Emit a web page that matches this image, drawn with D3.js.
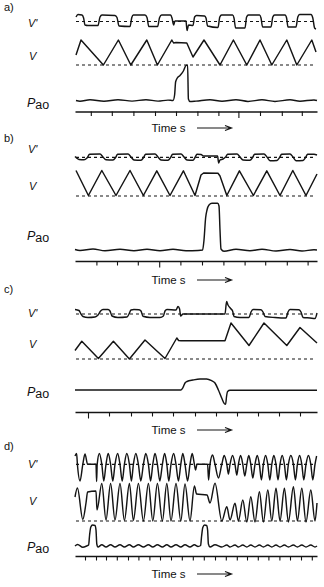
<!DOCTYPE html>
<html>
<head>
<meta charset="utf-8">
<script src="https://cdn.jsdelivr.net/npm/d3@7"></script>
<style>
  html, body { margin: 0; padding: 0; background: #fff; }
  text { font-family: "Liberation Sans", Arial, sans-serif; fill: #111; }
</style>
</head>
<body>
<div id="chart"></div>
<script>
// trace data: [time s, value]  (V' flow, V volume, Pao pressure; arbitrary units)
const aFlow = [[0.05,0.45],[0.15,0.7],[0.35,0.65],[0.43,0.35],[0.5,-0.35],[0.65,-0.4],[1.15,-0.4],[1.25,0.45],[1.35,0.65],[2.0,0.6],[2.1,0.4],[2.2,-0.45],[2.75,-0.5],[2.84,0.4],[2.92,0.65],[3.5,0.65],[3.6,0.4],[3.69,-0.5],[4.13,-0.5],[4.23,0.4],[4.33,0.65],[4.78,0.65],[4.85,0.35],[4.93,-0.35],[5.0,0.05],[5.55,0.05],[5.6,-0.9],[5.68,-0.35],[5.9,-0.4],[5.98,0.45],[6.08,0.6],[6.48,0.55],[6.55,0.35],[6.63,-0.45],[7.15,-0.6],[7.24,0.45],[7.33,0.65],[7.88,0.65],[7.95,0.35],[8.03,-0.65],[8.5,-0.65],[8.58,0.45],[8.67,0.65],[9.23,0.65],[9.3,0.35],[9.38,-0.55],[9.8,-0.55],[9.89,0.45],[9.98,0.65],[10.5,0.65],[10.58,0.35],[10.65,-0.55],[11.05,-0.55],[11.14,0.45],[11.23,0.7],[11.8,0.7],[11.89,0.35],[11.98,-0.65],[12.05,-0.75]];
const aVolume = [[0.05,1.0],[0.3,2.5],[1.42,0],[2.17,2.5],[2.79,0],[3.59,2.5],[4.12,0],[4.84,2.5],[4.93,2.2],[5.05,2.25],[5.59,2.2],[5.9,0.8],[6.45,2.5],[7.25,0],[7.92,2.5],[8.59,0],[9.25,2.5],[9.84,0],[10.59,2.5],[11.09,0],[11.84,2.5],[12.05,1.3]];
const aPressure = [[0.05,0],[0.25,-0.07],[0.75,0.08],[1.45,-0.07],[2.15,0.08],[2.85,-0.06],[3.55,0.08],[4.15,-0.06],[4.65,0.04],[4.9,0],[4.98,0.55],[5.03,1.85],[5.1,2.2],[5.25,2.5],[5.42,2.95],[5.55,3.5],[5.63,3.55],[5.67,0.15],[5.75,-0.1],[6.05,-0.06],[6.75,0.08],[7.35,-0.07],[8.05,0.08],[8.65,-0.09],[9.35,0.07],[10.0,-0.09],[10.75,0.07],[11.25,-0.07],[11.95,0.06],[12.1,0]];
const aTicks = [0.79, 1.84, 2.92, 4.0, 5.05, 6.12, 7.17, 8.17, 9.25, 10.34, 11.34];

const bFlow = [[0,0.08],[0.2,-0.22],[0.45,-0.25],[0.6,-0.07],[0.73,0.3],[1.25,0.33],[1.4,0.03],[1.55,-0.25],[1.9,-0.27],[2.03,-0.02],[2.13,0.3],[2.65,0.33],[2.8,0.03],[2.95,-0.27],[3.3,-0.3],[3.43,-0.02],[3.53,0.3],[4.0,0.33],[4.15,0.03],[4.3,-0.27],[4.65,-0.3],[4.78,-0.02],[4.88,0.3],[5.3,0.33],[5.45,0.03],[5.6,-0.27],[5.9,-0.3],[6.0,-0.02],[6.1,0.3],[6.3,0.28],[6.43,0.13],[7.13,0.13],[7.18,-0.57],[7.25,-0.27],[7.4,-0.17],[7.53,0.03],[7.63,0.3],[8.1,0.33],[8.25,0.03],[8.4,-0.27],[8.75,-0.3],[8.88,-0.02],[8.98,0.3],[9.45,0.33],[9.6,0.03],[9.75,-0.34],[10.1,-0.32],[10.23,-0.02],[10.33,0.3],[10.75,0.33],[10.9,0.03],[11.05,-0.34],[11.4,-0.32],[11.53,-0.02],[11.63,0.3],[11.95,0.31],[12.1,0.23]];
const bVolume = [[0.05,2.55],[0.67,0.05],[1.34,2.55],[2.05,0.05],[2.75,2.55],[3.42,0.05],[4.09,2.52],[4.75,0.05],[5.42,2.52],[6.0,0.05],[6.3,2.1],[6.43,2.3],[7.15,2.27],[7.25,2.0],[7.59,0.05],[8.22,2.52],[8.92,0.05],[9.59,2.52],[10.25,0.05],[10.89,2.55],[11.55,0.05],[12.1,2.2]];
const bPressure = [[0,0.05],[0.25,-0.05],[0.9,0.1],[1.5,-0.08],[2.25,0.08],[2.95,-0.08],[3.6,0.08],[4.25,-0.08],[4.9,0.08],[5.55,-0.08],[6.15,-0.05],[6.38,0],[6.45,1.0],[6.53,3.2],[6.6,4.0],[6.7,4.5],[6.85,4.67],[7.13,4.67],[7.2,4.4],[7.25,2.0],[7.3,0.1],[7.45,-0.12],[8.05,0.08],[8.75,-0.08],[9.35,0.07],[10.05,-0.1],[10.75,0.05],[11.35,-0.1],[11.95,0.02],[12.1,0]];
const bTicks = [1.07, 2.1, 3.14, 4.21, 5.27, 6.35, 7.42, 8.48, 9.51, 10.59, 11.63];

const cFlow = [[0,0.45],[0.2,0.35],[0.3,0],[0.4,-0.25],[0.65,-0.35],[1.0,-0.3],[1.15,-0.1],[1.28,0.3],[1.4,0.45],[1.65,0.45],[1.75,0.3],[1.85,-0.2],[2.15,-0.35],[2.6,-0.3],[2.7,0],[2.8,0.4],[2.95,0.45],[3.2,0.43],[3.3,0.3],[3.4,-0.23],[3.75,-0.35],[4.25,-0.35],[4.42,-0.2],[4.5,0.3],[4.6,0.45],[5.05,0.4],[5.15,0.75],[5.23,0.5],[5.28,-0.2],[5.4,0],[7.5,0],[7.58,1.25],[7.65,0.9],[7.78,0.55],[7.88,0.3],[7.95,-0.25],[8.25,-0.35],[8.7,-0.35],[8.8,0.2],[8.9,0.45],[9.3,0.42],[9.4,0.2],[9.5,-0.25],[10.0,-0.35],[10.55,-0.4],[10.65,0.2],[10.75,0.45],[11.2,0.43],[11.3,0.2],[11.4,-0.35],[11.75,-0.4],[12.0,-0.45],[12.1,0.1]];
const cVolume = [[0,0.85],[0.34,1.77],[1.17,0.05],[1.92,1.77],[2.72,0],[3.5,1.9],[4.5,0.05],[5.09,2.1],[5.18,1.85],[5.3,1.82],[7.5,1.82],[7.8,3.6],[8.7,1.35],[9.45,3.6],[10.59,1.35],[11.25,3.15],[12.1,1.6]];
const cPressure = [[0,0],[5.3,0],[5.4,0.25],[5.5,0.7],[5.6,0.85],[5.9,1.0],[6.25,1.1],[6.58,1.1],[6.83,0.93],[7.0,0.7],[7.17,0],[7.34,-0.83],[7.48,-1.4],[7.53,-1.43],[7.58,-0.6],[7.63,-0.15],[7.75,-0.03],[12.1,-0.03]];
const cTicks = [0.65, 1.7, 2.8, 3.85, 4.9, 6.0, 7.05, 8.1, 9.15, 10.2, 11.25];

const dFlow = [[0,0.83],[0.08,1.08],[0.12,0],[0.25,-1.67],[0.39,0],[0.5,1.03],[0.63,0],[1.05,0],[1.08,-1.72],[1.11,0],[1.22,1.08],[1.34,0],[1.44,-1.67],[1.55,0],[1.66,1.08],[1.78,0],[1.89,-1.67],[2.0,0],[2.13,1.08],[2.25,0],[2.36,-1.67],[2.47,0],[2.59,1.08],[2.72,0],[2.82,-1.67],[2.92,0],[3.04,1.08],[3.17,0],[3.29,-1.67],[3.42,0],[3.54,1.08],[3.67,0],[3.78,-1.67],[3.89,0],[4.0,1.08],[4.12,0],[4.24,-1.67],[4.37,0],[4.48,1.08],[4.59,0],[4.69,-1.67],[4.8,0],[4.93,1.08],[5.05,0],[5.17,-1.67],[5.29,0],[5.39,1.08],[5.5,0],[5.63,-1.67],[5.75,0],[5.86,1.08],[5.97,0],[6.03,-0.57],[6.1,0],[6.63,0],[6.68,-1.57],[6.75,0],[6.88,0.93],[7.0,0],[7.17,-1.37],[7.34,0],[7.46,0.88],[7.59,0],[7.67,-0.97],[7.75,0],[7.88,0.88],[8.0,0],[8.09,-1.07],[8.17,0],[8.28,0.88],[8.39,0],[8.49,-1.17],[8.59,0],[8.69,0.88],[8.79,0],[8.89,-1.37],[9.0,0],[9.11,0.88],[9.22,0],[9.32,-1.57],[9.42,0],[9.53,0.88],[9.64,0],[9.74,-1.57],[9.84,0],[9.94,0.88],[10.05,0],[10.15,-1.57],[10.25,0],[10.36,0.88],[10.47,0],[10.57,-1.57],[10.67,0],[10.79,0.88],[10.92,0],[11.02,-1.57],[11.12,0],[11.23,0.88],[11.34,0],[11.44,-1.57],[11.55,0],[11.67,0.88],[11.79,0],[11.89,-1.57],[12.0,0],[12.08,0.83]];
const dVolume = [[0,2.4],[0.12,3.3],[0.39,0.15],[0.55,1.8],[0.63,2.9],[1.05,3.0],[1.1,1.1],[1.34,3.75],[1.55,0.1],[1.78,3.75],[2.0,0.1],[2.25,3.75],[2.47,0.05],[2.72,3.75],[2.92,0.05],[3.17,3.75],[3.42,0],[3.67,3.75],[3.89,0],[4.12,3.75],[4.37,0],[4.59,3.75],[4.8,0],[5.05,3.75],[5.29,0],[5.5,3.7],[5.75,0],[5.97,3.5],[6.08,2.7],[6.6,2.6],[6.75,1.8],[7.0,3.77],[7.34,0],[7.59,1.43],[7.75,0.1],[8.0,1.77],[8.17,0],[8.39,2.1],[8.59,-0.1],[8.79,2.43],[9.0,-0.1],[9.22,2.93],[9.42,-0.1],[9.64,3.1],[9.84,0],[10.05,3.27],[10.25,0],[10.47,3.27],[10.67,-0.1],[10.92,3.43],[11.12,0],[11.34,3.27],[11.55,-0.1],[11.79,3.1],[12.0,0],[12.1,1.8]];
const dPressure = [[0,0],[0.13,0.15],[0.39,-0.12],[0.58,0],[0.68,0.1],[0.73,1.1],[0.79,1.9],[0.88,2.1],[1.0,2.05],[1.05,1.6],[1.09,0.2],[1.15,-0.1],[1.34,0.12],[1.55,-0.1],[1.78,0.12],[2.0,-0.1],[2.25,0.12],[2.47,-0.1],[2.72,0.12],[2.92,-0.1],[3.17,0.12],[3.42,-0.1],[3.67,0.12],[3.89,-0.1],[4.12,0.12],[4.37,-0.1],[4.59,0.12],[4.8,-0.1],[5.05,0.12],[5.29,-0.1],[5.5,0.12],[5.75,-0.1],[5.97,0.12],[6.15,-0.05],[6.28,0.05],[6.33,1.0],[6.39,1.85],[6.48,2.1],[6.58,2.05],[6.63,1.6],[6.67,0.2],[6.75,-0.1],[7.0,0.12],[7.34,-0.1],[7.59,0.1],[7.75,-0.1],[8.0,0.1],[8.17,-0.1],[8.39,0.1],[8.59,-0.1],[8.79,0.1],[9.0,-0.1],[9.22,0.1],[9.42,-0.1],[9.64,0.1],[9.84,-0.1],[10.05,0.1],[10.25,-0.1],[10.47,0.1],[10.67,-0.1],[10.92,0.1],[11.12,-0.1],[11.34,0.1],[11.55,-0.1],[11.79,0.1],[12.0,-0.1],[12.1,0]];
const dTicks = [0.5, 1.05, 1.55, 2.09, 2.65, 3.17, 3.72, 4.25, 4.8, 5.34, 5.89, 6.44, 7.0, 7.54, 8.09, 8.6, 9.14, 9.67, 10.22, 10.75, 11.3, 11.84];

const letters = ["a)", "b)", "c)", "d)"];

// layout of each panel (pixel positions)
const panels = [
  { flow: aFlow, volume: aVolume, pressure: aPressure, ticks: aTicks, longTick: [7],
    letterY: 10.5, flowY: 21.5, volY: 65, presY: 100.5, axisY: 111.5,
    flowLab: 26.5, volLab: 60, presLab: 107, timeY: 132 },
  { flow: bFlow, volume: bVolume, pressure: bPressure, ticks: bTicks, longTick: [3],
    letterY: 141.5, flowY: 157.3, volY: 196, presY: 250, axisY: 261,
    flowLab: 153, volLab: 189.5, presLab: 240, timeY: 284 },
  { flow: cFlow, volume: cVolume, pressure: cPressure, ticks: cTicks, longTick: [0],
    letterY: 292.5, flowY: 314, volY: 359, presY: 390, axisY: 412,
    flowLab: 316.5, volLab: 348, presLab: 396, timeY: 434 },
  { flow: dFlow, volume: dVolume, pressure: dPressure, ticks: dTicks, longTick: [],
    letterY: 450, flowY: 464.3, volY: 521, presY: 546, axisY: 556,
    flowLab: 467.5, volLab: 505, presLab: 550.5, timeY: 578 }
];

const width = 324, height = 587;
const ink = "#141414";

const svg = d3.select("#chart").append("svg")
  .attr("width", width)
  .attr("height", height);

svg.append("rect").attr("width", width).attr("height", height).attr("fill", "#fff");

const x = d3.scaleLinear().domain([0, 12.1]).range([75, 317]);

panels.forEach((p, i) => {
  const g = svg.append("g");

  g.append("text").attr("x", 4).attr("y", p.letterY)
    .style("font-size", "11px").text(letters[i]);

  // trace labels
  g.append("text").attr("x", 28).attr("y", p.flowLab)
    .style("font-size", "11px").style("font-style", "italic").text("V'");
  g.append("text").attr("x", 29).attr("y", p.volLab)
    .style("font-size", "11px").style("font-style", "italic").text("V");
  const pl = g.append("text").attr("x", 27).attr("y", p.presLab).style("font-size", "12.5px");
  pl.append("tspan").style("font-style", "italic").text("P");
  pl.append("tspan").attr("dy", 2).text("ao");

  const traces = [
    { data: p.flow, zero: p.flowY, dashed: true, curve: d3.curveMonotoneX },
    { data: p.volume, zero: p.volY, dashed: true, curve: i === 3 ? d3.curveMonotoneX : d3.curveLinear },
    { data: p.pressure, zero: p.presY, dashed: false, curve: d3.curveMonotoneX }
  ];

  traces.forEach(tr => {
    const y = d3.scaleLinear().domain([0, 1]).range([tr.zero, tr.zero - 10]);
    if (tr.dashed) {
      g.append("line")
        .attr("x1", x(0.05)).attr("x2", x(12.05))
        .attr("y1", y(0)).attr("y2", y(0))
        .attr("stroke", ink).attr("stroke-width", 1.2)
        .attr("stroke-dasharray", "3,3");
    }
    const line = d3.line().x(d => x(d[0])).y(d => y(d[1])).curve(tr.curve);
    g.append("path").datum(tr.data)
      .attr("d", line)
      .attr("fill", "none")
      .attr("stroke", ink)
      .attr("stroke-width", 1.45)
      .attr("stroke-linejoin", "round");
  });

  // time axis
  const ax = g.append("g")
    .attr("transform", `translate(0,${p.axisY})`)
    .call(d3.axisBottom(x).tickValues(p.ticks).tickSize(4.5).tickSizeOuter(0).tickFormat(""));
  ax.select(".domain").attr("stroke", ink).attr("stroke-width", 1.4);
  ax.selectAll(".tick line").attr("stroke", ink).attr("stroke-width", 1.1)
    .attr("y2", (d, k) => p.longTick.includes(k) ? 6.5 : 4.5);

  g.append("text").attr("x", 151.5).attr("y", p.timeY)
    .style("font-size", "11.5px").text("Time s");

  const ay = p.timeY - 4;
  g.append("path")
    .attr("d", `M197,${ay} H231 M225,${ay - 2.5} L231.5,${ay} L225,${ay + 2.5}`)
    .attr("fill", "none").attr("stroke", ink).attr("stroke-width", 1.2);
});
</script>
</body>
</html>
